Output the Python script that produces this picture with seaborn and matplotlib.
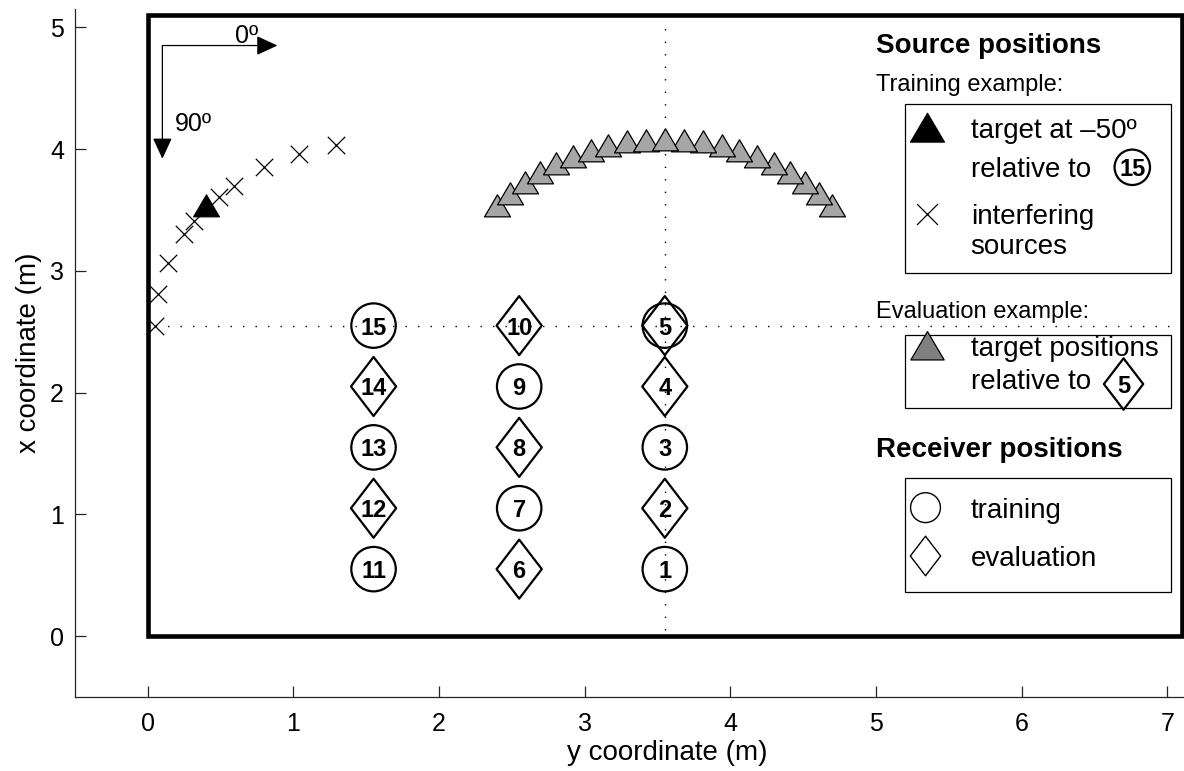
import matplotlib
matplotlib.use("Agg")
import matplotlib.pyplot as plt
import matplotlib.patches as mpatches
from matplotlib.path import Path
import pandas as pd
import seaborn as sns

# ---------------- data ----------------
# receivers: horizontal axis = "y coordinate", vertical axis = "x coordinate"
rec_ids = [1, 2, 3, 4, 5, 6, 7, 8, 9, 10, 11, 12, 13, 14, 15]
rec_hor = [3.55, 3.55, 3.55, 3.55, 3.55, 2.55, 2.55, 2.55, 2.55, 2.55,
           1.55, 1.55, 1.55, 1.55, 1.55]
rec_ver = [0.55, 1.05, 1.55, 2.05, 2.55, 0.55, 1.05, 1.55, 2.05, 2.55,
           0.55, 1.05, 1.55, 2.05, 2.55]
training_ids = [1, 3, 5, 7, 9, 11, 13, 15]
evaluation_ids = [2, 4, 5, 6, 8, 10, 12, 14]

# interfering sources (training example)
interf_hor = [0.05, 0.07, 0.14, 0.25, 0.32, 0.49, 0.59, 0.80, 1.04, 1.29]
interf_ver = [2.55, 2.81, 3.06, 3.30, 3.41, 3.61, 3.70, 3.85, 3.96, 4.03]

# training target (-50 deg relative to receiver 15)
target_hor = [0.40]
target_ver = [3.51]

# evaluation target positions relative to receiver 5 (centre outwards)
eval_hor = [3.55, 3.42, 3.68, 3.29, 3.81, 3.16, 3.94, 3.04, 4.06, 2.92, 4.18,
            2.80, 4.30, 2.69, 4.41, 2.59, 4.51, 2.49, 4.61, 2.40, 4.70]
eval_ver = [4.05, 4.04, 4.04, 4.03, 4.03, 4.00, 4.00, 3.96, 3.96, 3.91, 3.91,
            3.85, 3.85, 3.78, 3.78, 3.70, 3.70, 3.61, 3.61, 3.51, 3.51]

room_w, room_h = 7.1, 5.1
xticks = [0, 1, 2, 3, 4, 5, 6, 7]
yticks = [0, 1, 2, 3, 4, 5]

# ---------------- style ----------------
sns.set_style("ticks")
plt.rcParams["font.family"] = ["Liberation Sans", "DejaVu Sans"]
plt.rcParams["text.color"] = "black"
plt.rcParams["axes.labelcolor"] = "black"
plt.rcParams["lines.scale_dashes"] = True
AX_COL = "#262626"

fig = plt.figure(figsize=(11.84, 7.71), dpi=100)
ax = fig.add_axes([75 / 1184, 1 - 697 / 771, 1184 / 1184, 688 / 771])
ax.set_xlim(-0.5, 7.63)
ax.set_ylim(-0.5, 5.15)

# custom markers
diamond = Path([(0, 1), (0.766, 0), (0, -1), (-0.766, 0), (0, 1)],
               [Path.MOVETO, Path.LINETO, Path.LINETO, Path.LINETO, Path.CLOSEPOLY])
triangle = Path([(0, 1), (-0.882, -0.5), (0.882, -0.5), (0, 1)],
                [Path.MOVETO, Path.LINETO, Path.LINETO, Path.CLOSEPOLY])

# room outline
ax.add_patch(mpatches.Rectangle((0, 0), room_w, room_h, fill=False, lw=3.3,
                                ec="black", joinstyle="miter", clip_on=False, zorder=2))

# dotted guide lines through receiver 5
ax.plot([0.05, 7.05], [2.55, 2.55], color="black", lw=1.0, ls=(0, (1, 8)), zorder=1)
ax.plot([3.55, 3.55], [0.05, 5.05], color="black", lw=1.0, ls=(0, (1, 8)), zorder=1)

# receivers
rec = pd.DataFrame({"id": rec_ids, "hor": rec_hor, "ver": rec_ver})
tr = rec[rec["id"].isin(training_ids)]
ev = rec[rec["id"].isin(evaluation_ids)]
sns.scatterplot(data=tr, x="hor", y="ver", marker="o", s=32 ** 2, facecolor="none",
                edgecolor="black", linewidth=1.6, ax=ax, legend=False, zorder=4)
sns.scatterplot(data=ev, x="hor", y="ver", marker=diamond, s=42.5 ** 2, facecolor="none",
                edgecolor="black", linewidth=1.6, ax=ax, legend=False, zorder=4)
for i, h, v in zip(rec_ids, rec_hor, rec_ver):
    ax.text(h, v, str(i), ha="center", va="center_baseline", fontsize=17,
            fontweight="bold", zorder=6)

# sources
src_i = pd.DataFrame({"hor": interf_hor, "ver": interf_ver})
sns.scatterplot(data=src_i, x="hor", y="ver", marker="x", s=12.5 ** 2, color="black",
                linewidth=0.9, ax=ax, legend=False, zorder=3)
src_t = pd.DataFrame({"hor": target_hor, "ver": target_ver})
sns.scatterplot(data=src_t, x="hor", y="ver", marker=triangle, s=21.2 ** 2, color="black",
                edgecolor="black", linewidth=0.8, ax=ax, legend=False, zorder=5)
src_e = pd.DataFrame({"hor": eval_hor[::-1], "ver": eval_ver[::-1]})
sns.scatterplot(data=src_e, x="hor", y="ver", marker=triangle, s=21.2 ** 2, color="#a6a6a6",
                edgecolor="black", linewidth=0.9, ax=ax, legend=False, zorder=3)

# orientation arrows
arrow_kw = dict(arrowstyle="-|>,head_length=0.65,head_width=0.3", color="black",
                lw=0.9, shrinkA=0, shrinkB=0, mutation_scale=20)
ax.annotate("", xy=(0.89, 4.85), xytext=(0.10, 4.85), arrowprops=arrow_kw)
ax.annotate("", xy=(0.10, 3.92), xytext=(0.10, 4.85), arrowprops=arrow_kw)
ax.text(0.675, 4.946, "0º", ha="center", va="center_baseline", fontsize=18)
ax.text(0.314, 4.23, "90º", ha="center", va="center_baseline", fontsize=18)

# ---------------- legend-like annotation panel ----------------
for (x0, y0, x1, y1) in [(5.198, 2.981, 7.029, 4.366),
                         (5.198, 1.870, 7.029, 2.475),
                         (5.198, 0.366, 7.029, 1.300)]:
    ax.add_patch(mpatches.Rectangle((x0, y0), x1 - x0, y1 - y0, fill=False,
                                    lw=0.9, ec="black", zorder=2))

head_txt = ["Source positions", "Training example:", "Evaluation example:", "Receiver positions"]
head_y = [4.87, 4.545, 2.68, 1.55]
head_bold = [True, False, False, True]
for t, y, b in zip(head_txt, head_y, head_bold):
    ax.text(5.0, y, t, ha="left", va="center_baseline",
            fontsize=20 if b else 17, fontweight="bold" if b else "normal")

leg_txt = ["target at –50º", "relative to", "interfering", "sources",
           "target positions", "relative to", "training", "evaluation"]
leg_y = [4.17, 3.855, 3.47, 3.22, 2.38, 2.11, 1.055, 0.658]
for t, y in zip(leg_txt, leg_y):
    ax.text(5.65, y, t, ha="left", va="center_baseline", fontsize=20)

sns.scatterplot(x=[5.35], y=[4.14], marker=triangle, s=27.8 ** 2, color="black",
                edgecolor="black", linewidth=0.8, ax=ax, legend=False, zorder=5)
sns.scatterplot(x=[5.35], y=[3.47], marker="x", s=15 ** 2, color="black",
                linewidth=0.9, ax=ax, legend=False, zorder=5)
sns.scatterplot(x=[5.35], y=[2.35], marker=triangle, s=27.2 ** 2, color="#808080",
                edgecolor="black", linewidth=0.9, ax=ax, legend=False, zorder=5)
sns.scatterplot(x=[5.34], y=[1.055], marker="o", s=21.5 ** 2, facecolor="none",
                edgecolor="black", linewidth=1.0, ax=ax, legend=False, zorder=5)
sns.scatterplot(x=[5.34], y=[0.658], marker=diamond, s=28.5 ** 2, facecolor="none",
                edgecolor="black", linewidth=1.0, ax=ax, legend=False, zorder=5)
sns.scatterplot(x=[6.76], y=[3.85], marker="o", s=25.5 ** 2, facecolor="none",
                edgecolor="black", linewidth=1.6, ax=ax, legend=False, zorder=5)
ax.text(6.76, 3.85, "15", ha="center", va="center_baseline", fontsize=17, fontweight="bold")
sns.scatterplot(x=[6.70], y=[2.07], marker=diamond, s=37 ** 2, facecolor="none",
                edgecolor="black", linewidth=1.6, ax=ax, legend=False, zorder=5)
ax.text(6.70, 2.07, "5", ha="center", va="center_baseline", fontsize=17, fontweight="bold")

# ---------------- axes ----------------
for s in ["top", "right"]:
    ax.spines[s].set_visible(False)
for s in ["left", "bottom"]:
    ax.spines[s].set_color(AX_COL)
    ax.spines[s].set_linewidth(0.9)
ax.set_xticks(xticks)
ax.set_yticks(yticks)
ax.set_xticklabels([str(v) for v in xticks])
ax.set_yticklabels([str(v) for v in yticks])
ax.tick_params(axis="both", direction="in", length=8, width=0.9, color=AX_COL,
               labelsize=18, labelcolor="black")
ax.tick_params(axis="x", pad=11)
ax.tick_params(axis="y", pad=8)
ax.set_xlabel("y coordinate (m)", fontsize=20, labelpad=3)
ax.set_ylabel("x coordinate (m)", fontsize=20, labelpad=6)
ax.set_facecolor("white")
fig.patch.set_facecolor("white")

fig.savefig("out.png", dpi=100)
